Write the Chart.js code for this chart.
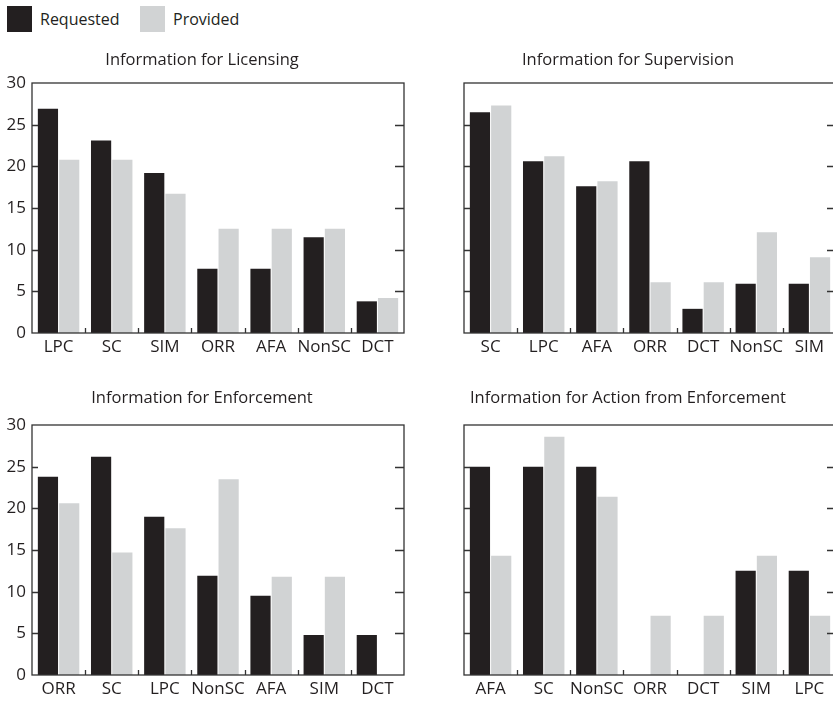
<!DOCTYPE html>
<html>
<head>
    <title>Information requested and provided</title>
    <script src="https://cdn.jsdelivr.net/npm/chart.js"></script>
    <style>
        body { margin: 0; width: 833px; height: 701px; overflow: hidden; background: #fff; position: relative;
               font-family: "Open Sans", "DejaVu Sans", sans-serif; color: #231f20; }
        .box { position: absolute; }
        .legend { position: absolute; top: 6px; left: 7px; font-size: 16px; }
        .legend span.sw { position: absolute; width: 25px; height: 26px; top: 0; }
        .legend span.tx { position: absolute; top: 1px; white-space: nowrap; line-height: 24px; }
    </style>
</head>
<body>
    <div class="legend" id="legend"></div>

    <canvas id="c1" class="box" width="412" height="324" style="left:0px; top:40px"></canvas>
    <canvas id="c2" class="box" width="440" height="324" style="left:420px; top:40px"></canvas>
    <canvas id="c3" class="box" width="412" height="328" style="left:0px; top:378px"></canvas>
    <canvas id="c4" class="box" width="440" height="328" style="left:420px; top:378px"></canvas>

    <script>
      // series names + colours
      const seriesNames = ["Requested", "Provided"];
      const seriesColors = ["#231f20", "#d1d3d4"];

      // Information for Licensing
      const licCats = ["LPC", "SC", "SIM", "ORR", "AFA", "NonSC", "DCT"];
      const licReq = [26.9, 23.1, 19.2, 7.7, 7.7, 11.5, 3.8];
      const licProv = [20.8, 20.8, 16.7, 12.5, 12.5, 12.5, 4.2];

      // Information for Supervision
      const supCats = ["SC", "LPC", "AFA", "ORR", "DCT", "NonSC", "SIM"];
      const supReq = [26.5, 20.6, 17.6, 20.6, 2.9, 5.9, 5.9];
      const supProv = [27.3, 21.2, 18.2, 6.1, 6.1, 12.1, 9.1];

      // Information for Enforcement
      const enfCats = ["ORR", "SC", "LPC", "NonSC", "AFA", "SIM", "DCT"];
      const enfReq = [23.8, 26.2, 19.0, 11.9, 9.5, 4.8, 4.8];
      const enfProv = [20.6, 14.7, 17.6, 23.5, 11.8, 11.8, 0];

      // Information for Action from Enforcement
      const actCats = ["AFA", "SC", "NonSC", "ORR", "DCT", "SIM", "LPC"];
      const actReq = [25, 25, 25, 0, 0, 12.5, 12.5];
      const actProv = [14.3, 28.6, 21.4, 7.1, 7.1, 14.3, 7.1];

      const yTicks = [0, 5, 10, 15, 20, 25, 30];

      const FONT = "'Open Sans', 'DejaVu Sans', sans-serif";
      const INK = "#231f20";

      // html legend
      const legend = document.getElementById("legend");
      const legendX = [0, 133];
      seriesNames.forEach((name, i) => {
        legend.innerHTML += '<span class="sw" style="left:' + legendX[i] + 'px;background:' + seriesColors[i] + '"></span>' +
          '<span class="tx" style="left:' + (legendX[i] + 33) + 'px">' + name + '</span>';
      });

      // box round the plot, inward ticks on both sides and small ticks between groups
      const framePlugin = {
        id: "frame",
        afterDatasetsDraw(chart) {
          const a = chart.chartArea;
          const x = chart.scales.x;
          const y = chart.scales.y;
          const ctx = chart.ctx;
          ctx.save();
          ctx.strokeStyle = "#333";
          ctx.lineWidth = 1.3;
          ctx.strokeRect(a.left, a.top, a.right - a.left, a.bottom - a.top);
          ctx.beginPath();
          yTicks.forEach(v => {
            if (v === 0 || v === 30) return;
            const py = Math.round(y.getPixelForValue(v)) + 0.5;
            ctx.moveTo(a.left, py); ctx.lineTo(a.left + 6, py);
            ctx.moveTo(a.right - 9, py); ctx.lineTo(a.right, py);
          });
          const n = chart.data.labels.length;
          for (let i = 0; i < n - 1; i++) {
            const px = Math.round((x.getPixelForValue(i) + x.getPixelForValue(i + 1)) / 2) + 0.5;
            ctx.moveTo(px, a.bottom); ctx.lineTo(px, a.bottom - 5);
          }
          ctx.stroke();
          ctx.restore();
        }
      };

      function makeChart(id, title, cats, req, prov, showY, padBottom) {
        return new Chart(document.getElementById(id), {
          type: "bar",
          data: {
            labels: cats,
            datasets: [
              { label: seriesNames[0], data: req, backgroundColor: seriesColors[0] },
              { label: seriesNames[1], data: prov, backgroundColor: seriesColors[1] }
            ]
          },
          options: {
            responsive: false,
            animation: false,
            devicePixelRatio: 1,
            categoryPercentage: 0.8,
            barPercentage: 0.95,
            layout: { padding: { left: 0, right: showY ? 8 : 24, top: 0, bottom: 0 } },
            plugins: {
              legend: { display: false },
              tooltip: { enabled: false },
              title: {
                display: true,
                text: title,
                color: INK,
                font: { family: FONT, size: 16.5, weight: "normal" },
                padding: { top: 10, bottom: padBottom }
              }
            },
            scales: {
              x: {
                grid: { display: false, drawTicks: false },
                border: { display: false },
                ticks: { color: INK, font: { family: FONT, size: 17 }, padding: 4, maxRotation: 0, autoSkip: false },
                afterFit: s => { s.height = 31; }
              },
              y: {
                min: 0,
                max: 30,
                grid: { display: false, drawTicks: false },
                border: { display: false },
                ticks: { display: showY, stepSize: 5, color: INK, font: { family: FONT, size: 17 }, padding: 6 },
                afterFit: s => { s.width = showY ? 32 : 44; }
              }
            }
          },
          plugins: [framePlugin]
        });
      }

      makeChart("c1", "Information for Licensing", licCats, licReq, licProv, true, 13.2);
      makeChart("c2", "Information for Supervision", supCats, supReq, supProv, false, 13.2);
      makeChart("c3", "Information for Enforcement", enfCats, enfReq, enfProv, true, 17.2);
      makeChart("c4", "Information for Action from Enforcement", actCats, actReq, actProv, false, 17.2);
    </script>
</body>
</html>
